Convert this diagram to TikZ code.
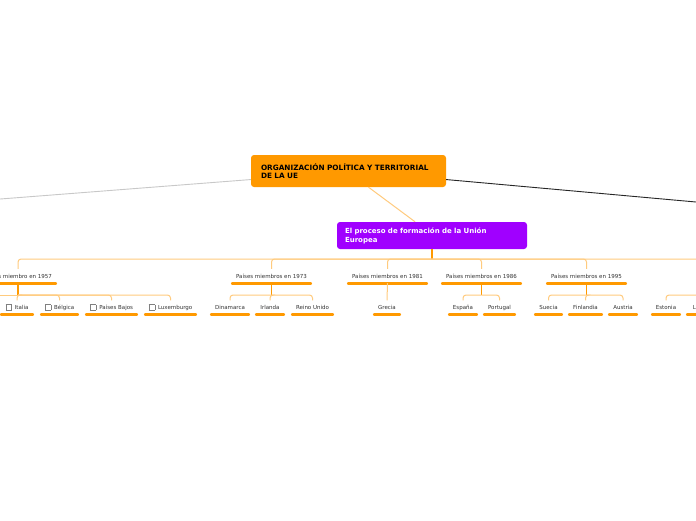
\documentclass[tikz,border=0pt]{standalone}
\usepackage{fontspec}
\setmainfont{DejaVu Sans}
\usetikzlibrary{calc}
\definecolor{mmorange}{HTML}{FF9900}
\definecolor{mmpurple}{HTML}{A000FF}
\definecolor{mmlight}{HTML}{FFCB7E}
\definecolor{mmtext}{HTML}{333333}
\definecolor{mmgray}{HTML}{C8C8C8}
\newcommand\cbx{\raisebox{-0.6pt}{\setlength\fboxsep{0pt}\setlength\fboxrule{0.45pt}\textcolor{gray}{\fbox{\rule{0pt}{5.4pt}\rule{5.4pt}{0pt}}}}\hspace{3pt}}
\begin{document}
\begin{tikzpicture}[x=1pt,y=-1pt,
  lvltwo/.style={inner sep=0pt, minimum width=#1, minimum height=14pt,
    font=\fontsize{5.5}{6.5}\selectfont, text=mmtext,
    append after command={(\tikzlastnode.south west) edge[draw=mmorange,line width=2.6pt,line cap=round,
      shorten <=1.3pt, shorten >=1.3pt] (\tikzlastnode.south east)}},
  leaf/.style={lvltwo=#1},
  light/.style={draw=mmlight,line width=1pt,rounded corners=3pt},
  stem/.style={draw=mmorange,line width=1.4pt}]
\clip (0,0) rectangle (696,520);
\fill[white] (0,0) rectangle (696,520);
% main nodes
\node[fill=mmorange, rounded corners=3pt, minimum width=195pt, minimum height=32pt,
  text width=175pt, inner xsep=10pt, align=left, font=\fontsize{7.3}{8.3}\bfseries]
  (main) at (348.5,171) {ORGANIZACIÓN POLÍTICA Y TERRITORIAL\\DE LA UE};
\node[fill=mmpurple, rounded corners=3pt, minimum width=190pt, minimum height=27pt,
  text width=174pt, inner xsep=8pt, align=left, text=white, font=\fontsize{7}{9}\bfseries]
  (proc) at (432,235.5) {El proceso de formación de la Unión\\Europea};
\coordinate (leftend) at (-10,199.8);
\coordinate (rightend) at (706,202.9);
\draw[mmgray, line width=0.9pt] (main.185.3) -- (leftend);
\draw[black!85, line width=0.9pt] (main.-5.3) -- (rightend);
\draw[mmlight, line width=1pt] (main.-39.4) -- (proc.141.5);
% level 2
\node[lvltwo=78pt] (n57) at (18,276) {Países miembro en 1957};
\node[lvltwo=81pt] (n73) at (271.5,276) {Países miembros en 1973};
\node[lvltwo=81pt] (n81) at (387.5,276) {Países miembros en 1981};
\node[lvltwo=81pt] (n86) at (481.5,276) {Países miembros en 1986};
\node[lvltwo=81pt] (n95) at (586.5,276) {Países miembros en 1995};
\coordinate (n04) at (760,269);
\coordinate (hub) at (432,259);
\draw[stem] (proc.south) -- (hub);
\foreach \n in {n57,n73,n81,n86,n95}{\draw[light] (hub) -| (\n.north);}
\draw[light] (hub) -| (n04);
% leaves
\node[leaf=34pt] (italia) at (17,307.5) {\cbx Italia};
\node[leaf=39pt] (belgica) at (59.5,307.5) {\cbx Bélgica};
\node[leaf=53pt] (bajos) at (111.5,307.5) {\cbx Países Bajos};
\node[leaf=53pt] (lux) at (170.5,307.5) {\cbx Luxemburgo};
\node[leaf=40pt] (dina) at (230,307.5) {Dinamarca};
\node[leaf=30pt] (irl) at (270,307.5) {Irlanda};
\node[leaf=43pt] (ru) at (312.5,307.5) {Reino Unido};
\node[leaf=28pt] (gre) at (387,307.5) {Grecia};
\node[leaf=30pt] (esp) at (463,307.5) {España};
\node[leaf=33pt] (por) at (499.5,307.5) {Portugal};
\node[leaf=29pt] (sue) at (548.5,307.5) {Suecia};
\node[leaf=35pt] (fin) at (585.5,307.5) {Finlandia};
\node[leaf=30pt] (aus) at (623,307.5) {Austria};
\node[leaf=30pt] (est) at (666,307.5) {Estonia};
\node[leaf=34pt] (let) at (703,307.5) {Letonia};
% child buses
\coordinate (b57) at (18,295);
\coordinate (b57l) at (-60,295);
\draw[stem] (n57.south) -- (b57);
\draw[light] (b57) -- (b57l);
\foreach \c in {italia,belgica,bajos,lux}{\draw[light] (b57) -| (\c.north);}
\coordinate (b73) at (271.5,295);
\draw[stem] (n73.south) -- (b73);
\foreach \c in {dina,irl,ru}{\draw[light] (b73) -| (\c.north);}
\draw[light] (n81.south) -- (gre.north);
\coordinate (b86) at (481.5,295);
\draw[stem] (n86.south) -- (b86);
\foreach \c in {esp,por}{\draw[light] (b86) -| (\c.north);}
\coordinate (b95) at (586.5,295);
\draw[stem] (n95.south) -- (b95);
\foreach \c in {sue,fin,aus}{\draw[light] (b95) -| (\c.north);}
\coordinate (b04) at (760,295);
\foreach \c in {est,let}{\draw[light] (b04) -| (\c.north);}
\end{tikzpicture}
\end{document}
